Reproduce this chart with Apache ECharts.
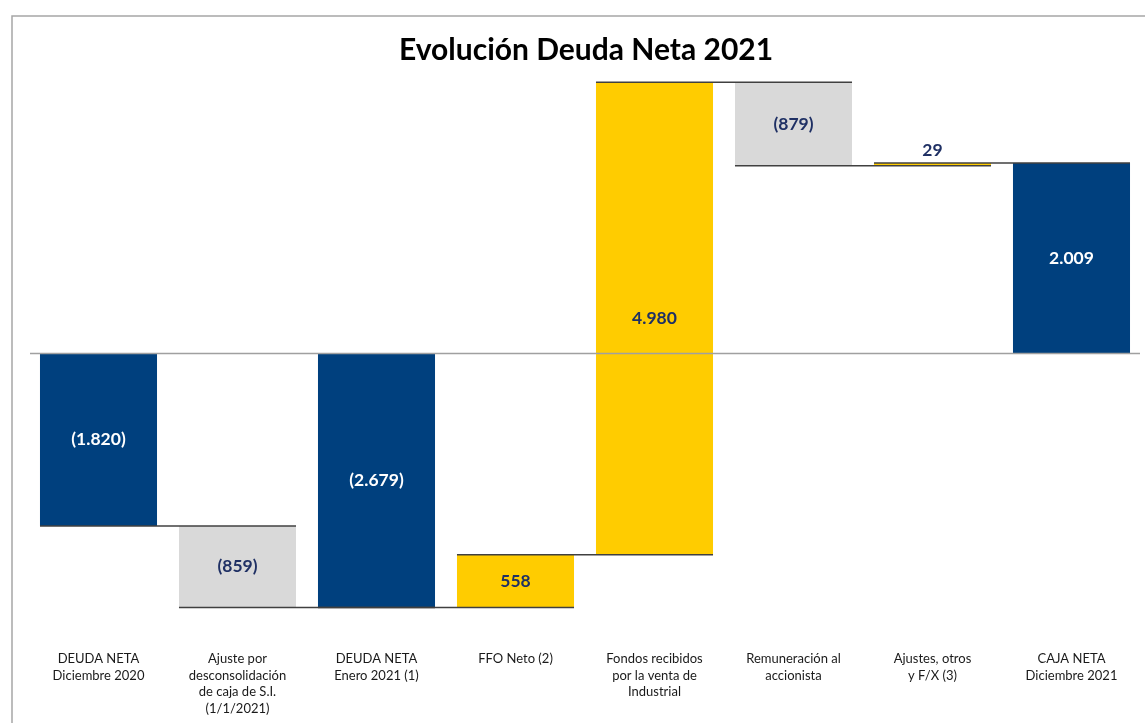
<!DOCTYPE html>
<html>
<head>
<meta charset="utf-8">
<script src="https://cdn.jsdelivr.net/npm/echarts@6/dist/echarts.min.js"></script>
<style>html,body{margin:0;padding:0;background:#fff;}#c{width:1145px;height:723px;}</style>
</head>
<body>
<div id="c"></div>
<script>
const categories = [
  'DEUDA NETA\nDiciembre 2020',
  'Ajuste por\ndesconsolidación\nde caja de S.I.\n(1/1/2021)',
  'DEUDA NETA\nEnero 2021 (1)',
  'FFO Neto (2)',
  'Fondos recibidos\npor la venta de\nIndustrial',
  'Remuneración al\naccionista',
  'Ajustes, otros\ny F/X (3)',
  'CAJA NETA\nDiciembre 2021'
];
const values = [-1820, -859, -2679, 558, 4980, -879, 29, 2009];
const kinds = ['total', 'delta', 'total', 'delta', 'delta', 'delta', 'delta', 'total'];
const barColors = ['#00407e', '#d9d9d9', '#00407e', '#ffcc00', '#ffcc00', '#d9d9d9', '#ffcc00', '#00407e'];
const labelColors = ['#ffffff', '#1f3064', '#ffffff', '#1f3064', '#1f3064', '#1f3064', '#1f3064', '#ffffff'];
const labelInside = [true, true, true, true, true, true, false, true];

function fmt(v) {
  const s = Math.abs(v).toString().replace(/\B(?=(\d{3})+(?!\d))/g, '.');
  return v < 0 ? '(' + s + ')' : s;
}

// running start / end for the waterfall
const starts = [], ends = [];
let run = 0;
values.forEach((v, i) => {
  if (kinds[i] === 'total') { starts.push(0); ends.push(v); run = v; }
  else { starts.push(run); ends.push(run + v); run += v; }
});
const barData = values.map((v, i) => [i, starts[i], ends[i]]);
const connData = ends.slice(0, -1).map((e, i) => [i, e]);

const BAR_FRAC = 0.842;

const chart = echarts.init(document.getElementById('c'));
chart.setOption({
  animation: false,
  title: {
    text: 'Evolución Deuda Neta 2021',
    left: 394, top: 30,
    textStyle: { fontFamily: 'Lato', fontWeight: 'bold', fontSize: 30, color: '#000' }
  },
  graphic: [{
    type: 'rect', left: 9.5, top: 13.5, silent: true,
    shape: { x: 0, y: 0, width: 2000, height: 2000 },
    style: { fill: 'none', stroke: '#a6a6a6', lineWidth: 1.5 }
  }],
  grid: { left: 29, right: 4, top: 69, height: 569 },
  xAxis: {
    type: 'category', data: categories,
    axisLine: { show: false, onZero: false }, axisTick: { show: false },
    axisLabel: { interval: 0, margin: 13, fontFamily: 'Lato', fontSize: 13, lineHeight: 16.5, color: '#1a1a1a' }
  },
  yAxis: { type: 'value', min: -3000, max: 3000, show: false, splitLine: { show: false } },
  series: [
    {
      type: 'custom', data: barData, encode: { x: 0, y: [1, 2] }, z: 2,
      renderItem: function (params, api) {
        const i = api.value(0);
        const p1 = api.coord([i, api.value(1)]);
        const p2 = api.coord([i, api.value(2)]);
        const band = api.size([1, 0])[0];
        const bw = band * BAR_FRAC;
        const top = Math.min(p1[1], p2[1]);
        const h = Math.abs(p1[1] - p2[1]);
        const ly = labelInside[i] ? top + h / 2 : top - 13;
        const children = [
          { type: 'rect', shape: { x: p1[0] - bw / 2, y: top, width: bw, height: Math.max(h, 1) },
            style: { fill: barColors[i] } },
          { type: 'text', x: p1[0], y: ly,
            style: { text: fmt(values[i]), fill: labelColors[i], font: 'bold 17.5px Lato',
                     align: 'center', verticalAlign: 'middle' } }
        ];
        if (i === 0) {
          const a = api.coord([0, 0]);
          const b = api.coord([categories.length - 1, 0]);
          children.push({ type: 'line', z2: 5,
            shape: { x1: a[0] - band / 2 + 1, y1: a[1], x2: b[0] + band / 2 - 1, y2: a[1] },
            style: { stroke: '#a0a0a0', lineWidth: 1.5 } });
        }
        return { type: 'group', children: children };
      }
    },
    {
      type: 'custom', data: connData, encode: { x: 0, y: 1 }, z: 3,
      renderItem: function (params, api) {
        const i = api.value(0);
        const band = api.size([1, 0])[0];
        const bw = band * BAR_FRAC;
        const a = api.coord([i, api.value(1)]);
        const b = api.coord([i + 1, api.value(1)]);
        return {
          type: 'line',
          shape: { x1: a[0] - bw / 2, y1: a[1], x2: b[0] + bw / 2, y2: a[1] },
          style: { stroke: '#404040', lineWidth: 1.5 }
        };
      }
    }
  ]
});
</script>
</body>
</html>
